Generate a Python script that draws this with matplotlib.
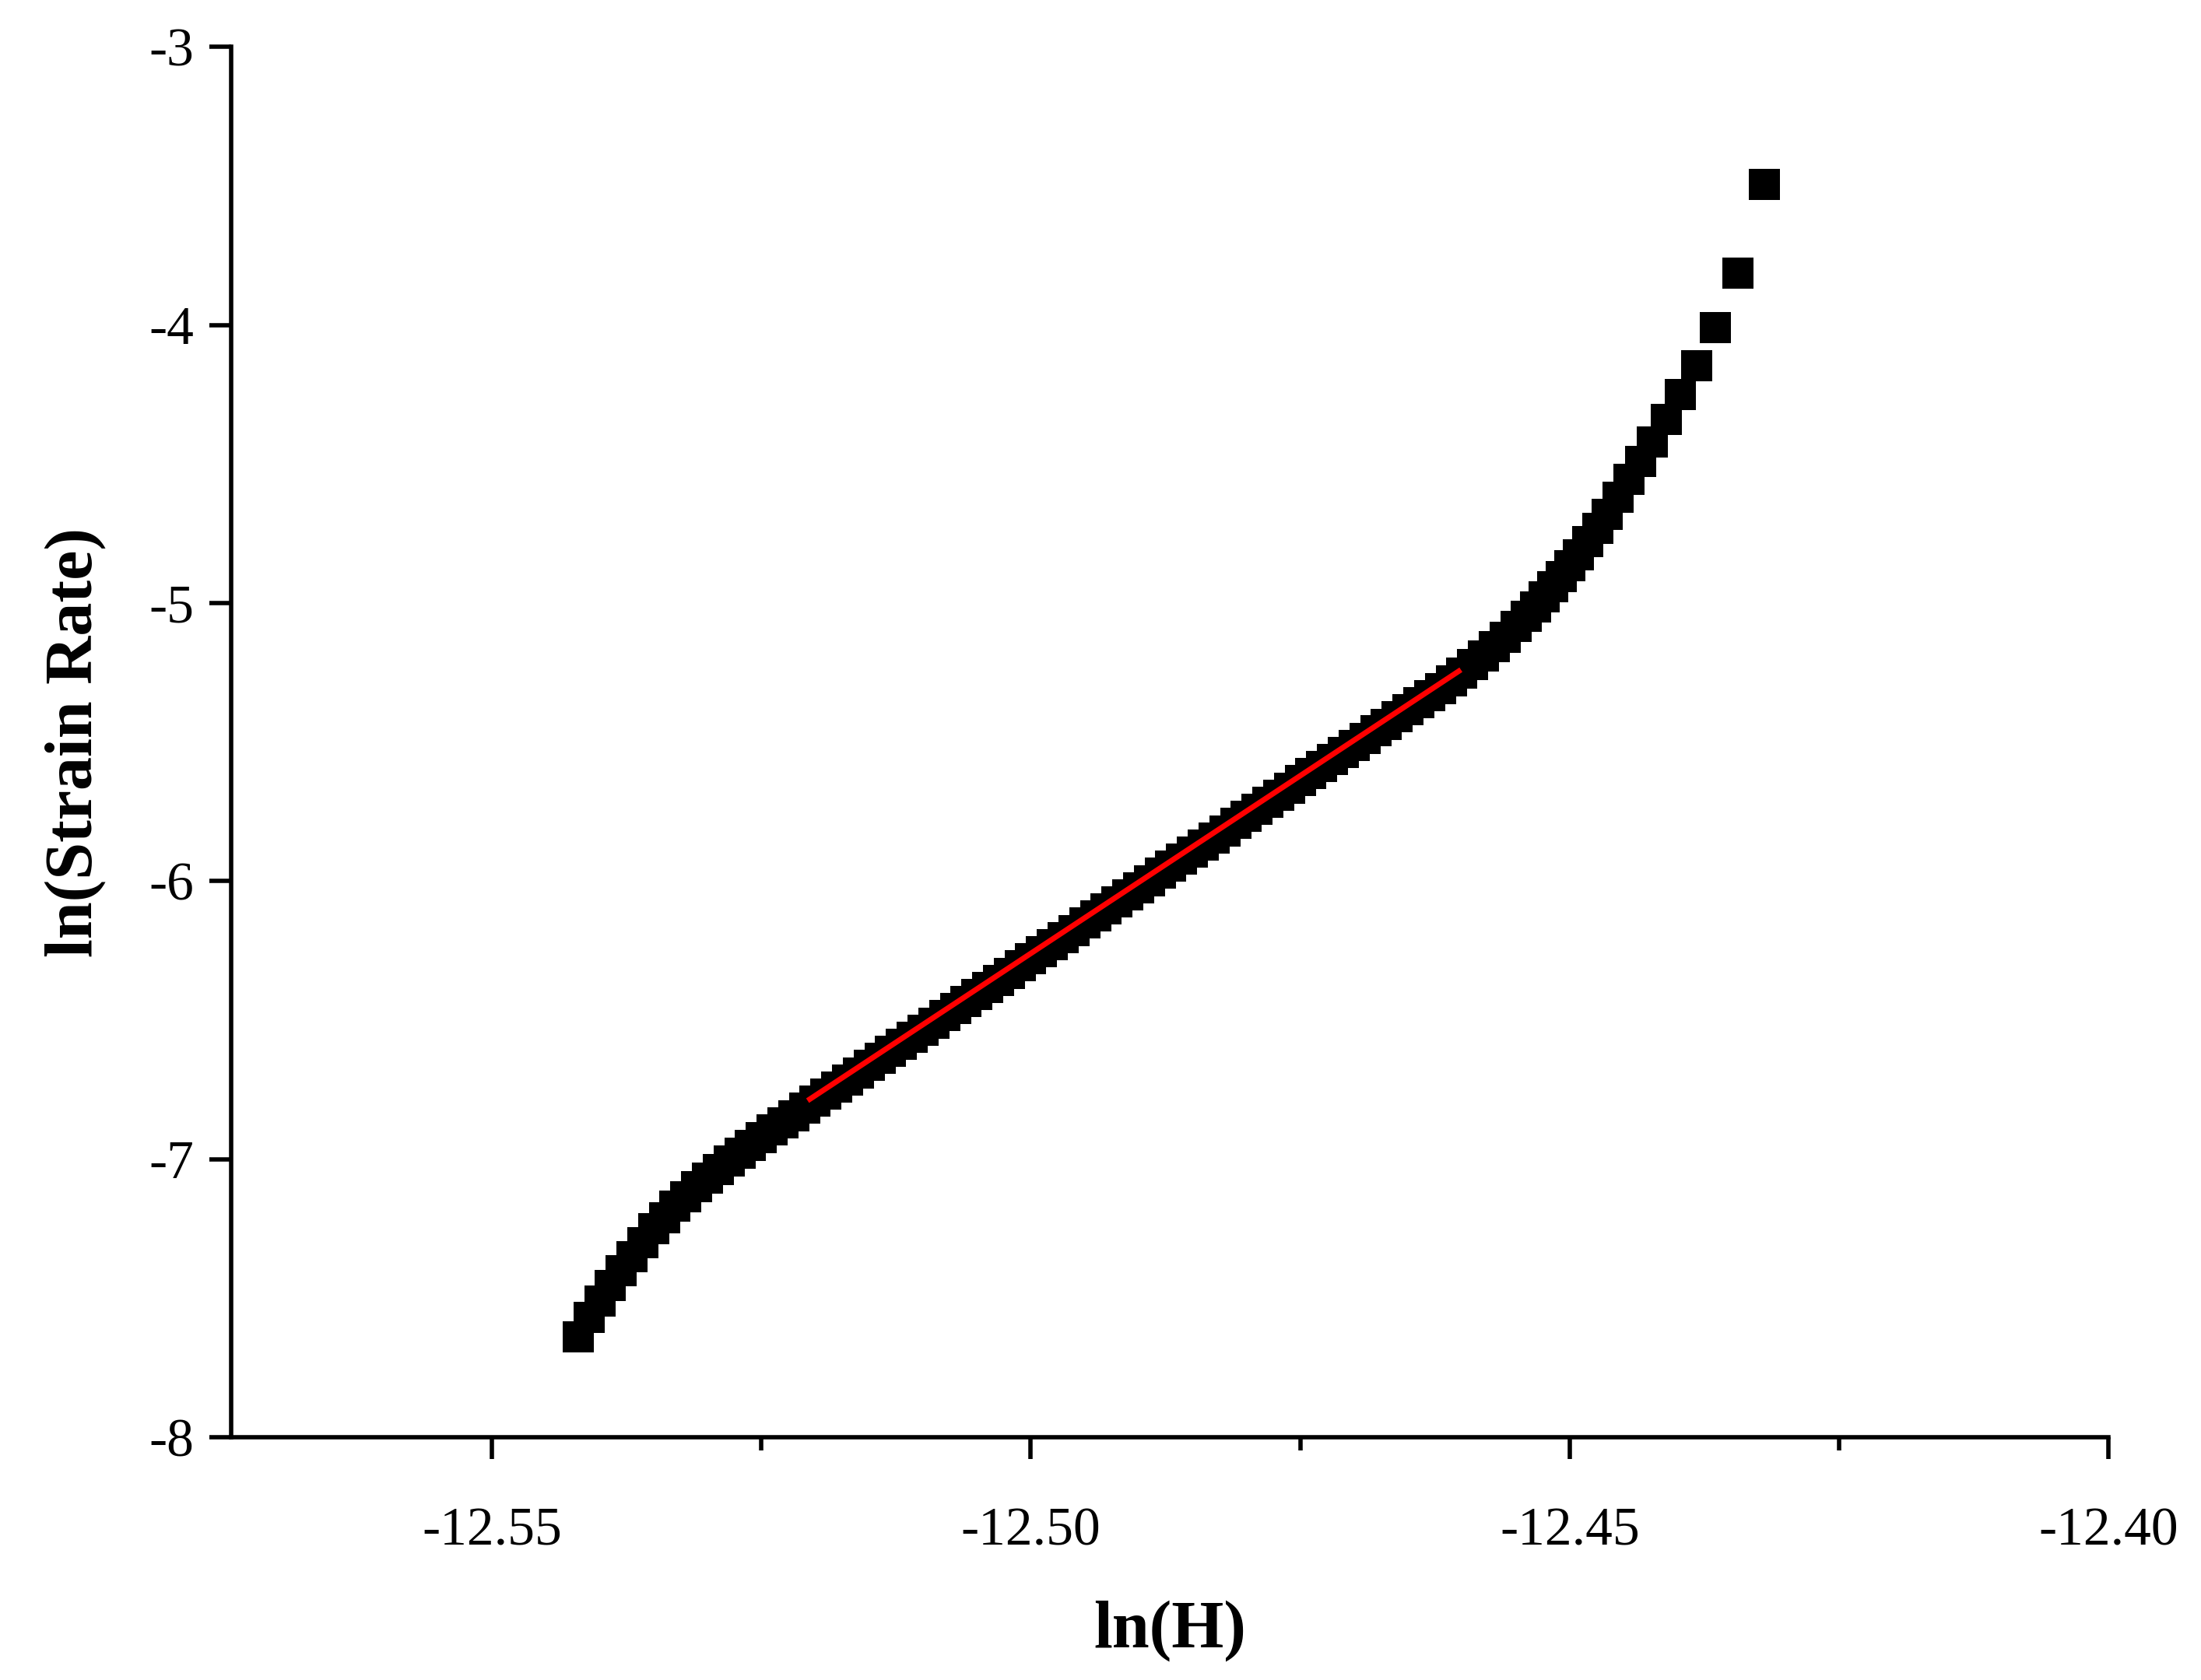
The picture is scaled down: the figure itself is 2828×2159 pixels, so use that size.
import matplotlib
matplotlib.use("Agg")
import matplotlib.pyplot as plt
from matplotlib.ticker import MultipleLocator, FormatStrFormatter

ln_h = [-12.542,-12.541,-12.540,-12.539,-12.538,-12.537,-12.536,-12.535,-12.534,-12.533,
        -12.532,-12.531,-12.530,-12.529,-12.528,-12.527,-12.526,-12.525,-12.524,-12.523,-12.522,
        -12.521,-12.520,-12.519,-12.518,-12.517,-12.516,-12.515,-12.514,-12.513,-12.512,
        -12.511,-12.510,-12.509,-12.508,-12.507,-12.506,-12.505,-12.504,-12.503,-12.502,
        -12.501,-12.500,-12.499,-12.498,-12.497,-12.496,-12.495,-12.494,-12.493,-12.492,
        -12.491,-12.490,-12.489,-12.488,-12.487,-12.486,-12.485,-12.484,-12.483,-12.482,
        -12.481,-12.480,-12.479,-12.478,-12.477,-12.476,-12.475,-12.474,-12.473,-12.472,
        -12.471,-12.470,-12.469,-12.468,-12.467,-12.466,-12.465,-12.464,-12.463,-12.462,-12.461,
        -12.460,-12.459,-12.458,-12.457,-12.456,-12.455,-12.454,
        -12.4532,-12.4524,-12.4516,-12.4508,-12.4500,-12.4492,-12.4483,-12.4474,-12.4465,
        -12.4455,-12.4445,-12.4434,-12.4423,-12.4410,-12.4397,-12.4382,-12.4365,-12.4344,-12.4319]
ln_rate = [-7.64,-7.57,-7.51,-7.455,-7.40,-7.35,-7.30,-7.25,-7.21,-7.17,
           -7.135,-7.10,-7.068,-7.037,-7.007,-6.978,-6.95,-6.922,-6.895,-6.869,-6.843,
           -6.817,-6.791,-6.766,-6.740,-6.715,-6.689,-6.663,-6.638,-6.612,-6.587,
           -6.561,-6.535,-6.510,-6.484,-6.459,-6.433,-6.407,-6.382,-6.356,-6.331,
           -6.305,-6.279,-6.254,-6.228,-6.203,-6.177,-6.151,-6.126,-6.100,-6.075,
           -6.049,-6.023,-5.998,-5.972,-5.947,-5.921,-5.895,-5.870,-5.844,-5.819,
           -5.793,-5.767,-5.742,-5.716,-5.691,-5.665,-5.639,-5.614,-5.588,-5.563,
           -5.537,-5.511,-5.486,-5.460,-5.435,-5.409,-5.383,-5.358,-5.332,-5.307,-5.281,
           -5.252,-5.222,-5.190,-5.157,-5.122,-5.085,-5.046,
           -5.013,-4.978,-4.942,-4.905,-4.866,-4.826,-4.78,-4.73,-4.68,
           -4.62,-4.555,-4.49,-4.42,-4.34,-4.25,-4.145,-4.009,-3.812,-3.494]
fit_x = [-12.5205, -12.4603]
fit_y = [-6.784, -5.245]

plt.rcParams['font.family'] = ['Liberation Serif', 'DejaVu Serif']
fig = plt.figure(figsize=(28.28, 21.59), dpi=100)
ax = fig.add_axes([0.105, 0.1445, 0.853, 0.8275])
ax.plot(ln_h, ln_rate, 's', color='black', markersize=29, markeredgewidth=0)
ax.plot(fit_x, fit_y, '-', color='red', linewidth=5)
ax.set_xlim(-12.5742, -12.40)
ax.set_ylim(-8, -3)
ax.xaxis.set_major_locator(MultipleLocator(0.05))
ax.xaxis.set_minor_locator(MultipleLocator(0.025))
ax.yaxis.set_major_locator(MultipleLocator(1))
ax.xaxis.set_major_formatter(FormatStrFormatter('%.2f'))
ax.yaxis.set_major_formatter(FormatStrFormatter('%d'))
for s in ['top', 'right']:
    ax.spines[s].set_visible(False)
for s in ['left', 'bottom']:
    ax.spines[s].set_linewidth(4)
ax.tick_params(which='major', direction='out', length=20, width=4, labelsize=50)
ax.tick_params(axis='x', pad=45)
ax.tick_params(axis='y', pad=14)
ax.tick_params(which='minor', direction='out', length=12, width=4)
ax.set_xlabel('ln(H)', fontsize=62, fontweight='bold', labelpad=40)
ax.set_ylabel('ln(Strain Rate)', fontsize=62, fontweight='bold', labelpad=40)
fig.savefig('out.png', dpi=100)
